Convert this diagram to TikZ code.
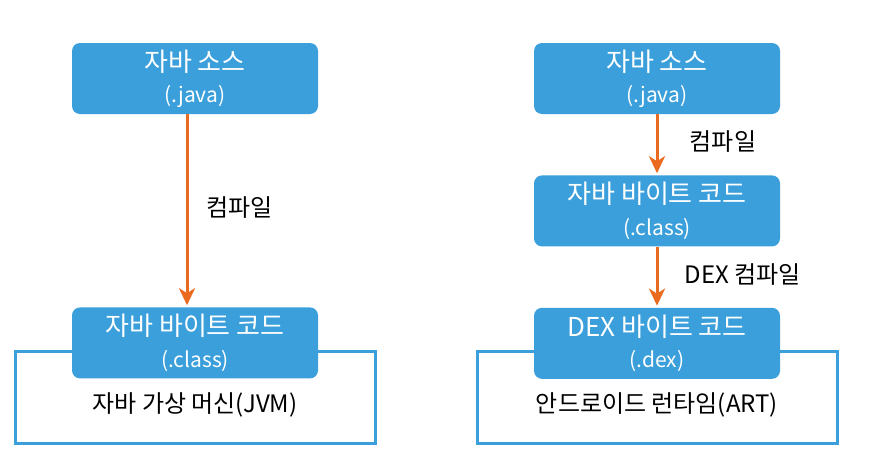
\documentclass[tikz,border=0pt]{standalone}
\usepackage{fontspec}
\setmainfont{Noto Sans CJK KR}
\usetikzlibrary{positioning,calc,arrows.meta}
\definecolor{boxblue}{HTML}{3A9FDA}
\definecolor{arroworange}{HTML}{EA6A1F}
\tikzset{%
  every box/.style={rectangle,rounded corners=8pt,fill=boxblue,text=white,minimum width=246pt,minimum height=71pt,align=center,inner sep=0pt},
  every frame/.style={rectangle,draw=boxblue,line width=3pt,minimum width=360pt,minimum height=92pt},
}
\newcommand{\boxtext}[2]{{\fontsize{26}{30}\selectfont #1}\\[11pt]{\fontsize{21}{24}\selectfont #2}}

\begin{document}
\begin{tikzpicture}[
            x=1pt,y=-1pt,
            plain/.style={
              draw=none,
              fill=none,
              font=\fontsize{24}{28}\selectfont
              },
            >={Stealth[length=17pt,width=16pt,inset=5pt]}
            ]
            \useasboundingbox (0,0) rectangle (896,458);
            % runtime frames first, the boxes sit on their top edge
            \node[every frame] (lvm) at (195,397.5) {};
            \node[every frame] (rart) at (657,397.5) {};
            \node[plain] (lvmlabel) at (195,405) {자바 가상 머신(JVM)};
            \node[plain] (rartlabel) at (657,405) {안드로이드 런타임(ART)};

            % left: java
            \node[every box] (lsrc) at (195,78.5) {\boxtext{자바 소스}{(.java)}};
            \node[every box,below=193pt of lsrc] (lclass) {\boxtext{자바 바이트 코드}{(.class)}};

            % right: android
            \node[every box] (rsrc) at (657,78.5) {\boxtext{자바 소스}{(.java)}};
            \node[every box,below=61pt of rsrc] (rclass) {\boxtext{자바 바이트 코드}{(.class)}};
            \node[every box,below=61pt of rclass] (rdex) {\boxtext{DEX 바이트 코드}{(.dex)}};

            \foreach \a/\b/\t/\d/\s in {lsrc/lclass/컴파일/15pt/-8,rsrc/rclass/컴파일/28pt/0,rclass/rdex/DEX 컴파일/23pt/0}
              \draw[->,arroworange,line width=3pt,shorten >=2pt] ($(\a.south)+(\s,0)$) -- node[plain,right=\d,text=black,yshift=3pt] {\t} ($(\b.north)+(\s,0)$);
\end{tikzpicture}
\end{document}
